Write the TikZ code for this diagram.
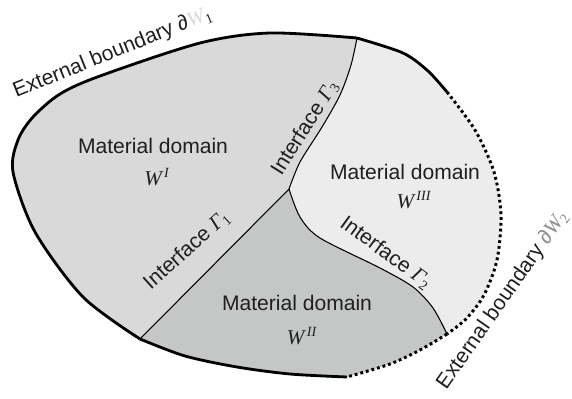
\documentclass[tikz,border=0pt]{standalone}
\usepackage{fontspec}
\setmainfont{Liberation Sans}
\newfontfamily\timesf{Liberation Serif}
\usetikzlibrary{positioning}
\definecolor{domI}{RGB}{217,217,217}
\definecolor{domII}{RGB}{197,199,199}
\definecolor{domIII}{RGB}{236,236,236}
\newcommand{\Wdom}[1]{{\timesf\itshape W}\textsuperscript{\,\timesf\itshape #1}}
\newcommand{\Gam}[1]{{\timesf\itshape Γ}\textsubscript{\timesf #1}}

\begin{document}
\begin{tikzpicture}[x=0.02cm,y=-0.02cm,
  bound/.style={line width=1.6pt},
  dotbound/.style={line width=1.7pt,dash pattern=on 1.6pt off 1.7pt},
  iface/.style={line width=0.6pt},
  lab/.style={font=\fontsize{12}{14}\selectfont,text=black!88,inner sep=0pt}]
\useasboundingbox (0,0) rectangle (572,399);
\coordinate (A) at (140,339);
\coordinate (B) at (357,38);
\coordinate (J) at (289,189);
\coordinate (C) at (447,334);
\coordinate (S) at (447,92);
\coordinate (D) at (347,377);
% domains
\fill[domI] plot[smooth] coordinates {(A) (83,297) (35,232) (13,172) (18,140) (33,117) (60,94) (100,76) (200,43) (270,33) (B)}
 -- plot[smooth] coordinates {(B) (403,53) (428,71) (S)}
 -- plot[smooth] coordinates {(S) (475,130) (494,172) (501,215) (497,260) (484,295) (466,319) (C)}
 -- plot[smooth] coordinates {(C) (420,350) (390,364) (D)}
 -- plot[smooth] coordinates {(D) (290,374) (237,367) (185,356) (A)} -- cycle;
\fill[domIII] plot[smooth] coordinates {(B) (403,53) (428,71) (S)}
 -- plot[smooth] coordinates {(S) (475,130) (494,172) (501,215) (497,260) (484,295) (466,319) (C)}
 -- plot[smooth] coordinates {(C) (433,308) (413,287) (380,268) (320,238) (300,217) (J)}
 -- plot[smooth] coordinates {(J) (300,162) (322,127) (340,95) (351,65) (B)} -- cycle;
\fill[domII] plot[smooth] coordinates {(J) (300,217) (320,238) (380,268) (413,287) (433,308) (C)}
 -- plot[smooth] coordinates {(C) (420,350) (390,364) (D)}
 -- plot[smooth] coordinates {(D) (290,374) (237,367) (185,356) (A)} -- (J) -- cycle;
% interfaces
\draw[iface] (A) -- (J);
\draw[iface] plot[smooth] coordinates {(J) (300,162) (322,127) (340,95) (351,65) (B)};
\draw[iface] plot[smooth] coordinates {(J) (300,217) (320,238) (380,268) (413,287) (433,308) (C)};
% boundary
\draw[bound] plot[smooth] coordinates {(A) (83,297) (35,232) (13,172) (18,140) (33,117) (60,94) (100,76) (200,43) (270,33) (B)};
\draw[bound] plot[smooth] coordinates {(B) (403,53) (428,71) (S)};
\draw[bound] plot[smooth] coordinates {(D) (290,374) (237,367) (185,356) (A)};
\draw[dotbound] plot[smooth] coordinates {(S) (475,130) (494,172) (501,215) (497,260) (484,295) (466,319) (C)};
\draw[dotbound] plot[smooth] coordinates {(C) (420,350) (390,364) (D)};
% labels
\node[lab] (matI) at (153,146) {Material domain};
\node[lab] (wI) at (157,177) {\Wdom{I}};
\node[lab] (matIII) at (405,172) {Material domain};
\node[lab] (wIII) at (414,200) {\Wdom{III}};
\node[lab] (matII) at (297,303) {Material domain};
\node[lab] (wII) at (302,336) {\Wdom{II}};
\node[lab,rotate=42] (gam1) at (187,250) {Interface \Gam{1}};
\node[lab,rotate=-36] (gam2) at (386,253) {Interface \Gam{2}};
\node[lab,rotate=58] (gam3) at (305,128) {Interface \Gam{3}};
\node[lab,rotate=22] (ext1) at (113,53) {External boundary ∂{\timesf\itshape\color{black!15}W}\textsubscript{\timesf 1}};
\node[lab,rotate=55] (ext2) at (503,300) {External boundary {\color{black!45}∂{\timesf\itshape W}\textsubscript{\timesf 2}}};
\end{tikzpicture}
\end{document}
